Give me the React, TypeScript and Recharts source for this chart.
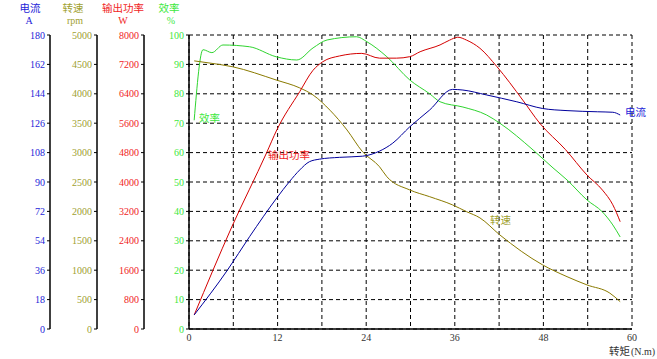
import React from 'react';
import { LineChart, Line, XAxis, YAxis, CartesianGrid } from 'recharts';

const xTicks = [0, 6, 12, 18, 24, 30, 36, 42, 48, 54, 60];
const currentTicks = [0, 18, 36, 54, 72, 90, 108, 126, 144, 162, 180];
const speedTicks = [0, 500, 1000, 1500, 2000, 2500, 3000, 3500, 4000, 4500, 5000];
const powerTicks = [0, 800, 1600, 2400, 3200, 4000, 4800, 5600, 6400, 7200, 8000];
const effTicks = [0, 10, 20, 30, 40, 50, 60, 70, 80, 90, 100];

const efficiencyData = [
  { t: 0.7, v: 71 }, { t: 1.9, v: 95 }, { t: 3.1, v: 94 }, { t: 4.6, v: 96.6 },
  { t: 8.2, v: 96 }, { t: 11.8, v: 92.6 }, { t: 14.6, v: 91.5 }, { t: 16.8, v: 95.6 },
  { t: 18.7, v: 98.3 }, { t: 22.7, v: 99.4 }, { t: 24.1, v: 97.7 }, { t: 26.8, v: 92.6 },
  { t: 29.9, v: 84.7 }, { t: 32.6, v: 80 }, { t: 34, v: 77.3 }, { t: 37.1, v: 75.5 },
  { t: 40.3, v: 72.8 }, { t: 42.1, v: 70 }, { t: 46.6, v: 60.9 }, { t: 49.3, v: 54.8 },
  { t: 51.2, v: 50.7 }, { t: 53.9, v: 43.9 }, { t: 56, v: 39.8 }, { t: 57.4, v: 35.4 },
  { t: 58.4, v: 31.3 },
];

const powerData = [
  { t: 0.7, v: 380 }, { t: 5.8, v: 2780 }, { t: 10.5, v: 4790 }, { t: 11.9, v: 5420 },
  { t: 15, v: 6460 }, { t: 16.8, v: 7040 }, { t: 18.1, v: 7270 }, { t: 20.4, v: 7430 },
  { t: 23.4, v: 7500 }, { t: 25.8, v: 7370 }, { t: 28.1, v: 7370 }, { t: 29.9, v: 7410 },
  { t: 31.3, v: 7545 }, { t: 34, v: 7730 }, { t: 35.3, v: 7860 }, { t: 36.4, v: 7940 },
  { t: 37.6, v: 7860 }, { t: 39.4, v: 7640 }, { t: 41.7, v: 7140 }, { t: 45.2, v: 6230 },
  { t: 47.5, v: 5600 }, { t: 51, v: 4880 }, { t: 53.9, v: 4190 }, { t: 56, v: 3780 },
  { t: 57.4, v: 3380 }, { t: 58.4, v: 2920 },
];

const speedData = [
  { t: 0.7, v: 4560 }, { t: 2.7, v: 4525 }, { t: 5.9, v: 4460 }, { t: 11.8, v: 4235 },
  { t: 15, v: 4100 }, { t: 16.8, v: 3980 }, { t: 19.1, v: 3720 }, { t: 21.4, v: 3385 },
  { t: 23.5, v: 3015 }, { t: 25.8, v: 2760 }, { t: 26.8, v: 2590 }, { t: 29.9, v: 2365 },
  { t: 32.6, v: 2250 }, { t: 35.7, v: 2110 }, { t: 37.6, v: 1995 }, { t: 39.4, v: 1890 },
  { t: 42.1, v: 1600 }, { t: 47.9, v: 1090 }, { t: 51.2, v: 890 }, { t: 53.9, v: 750 },
  { t: 57, v: 610 }, { t: 58.4, v: 465 },
];

const currentData = [
  { t: 0.7, v: 8.6 }, { t: 5.2, v: 36 }, { t: 8.2, v: 56.5 }, { t: 11.9, v: 80.3 },
  { t: 13.6, v: 90.2 }, { t: 15, v: 97.4 }, { t: 16.3, v: 102.4 }, { t: 17.7, v: 104 },
  { t: 20.4, v: 105.1 }, { t: 23.5, v: 105.8 }, { t: 25.8, v: 108.9 }, { t: 27.6, v: 113.8 },
  { t: 29.9, v: 123.8 }, { t: 32.6, v: 134.1 }, { t: 35.7, v: 146.7 }, { t: 37.1, v: 146.3 },
  { t: 40.3, v: 143.3 }, { t: 44.4, v: 139.1 }, { t: 47.9, v: 135 }, { t: 51.2, v: 133.7 },
  { t: 55.3, v: 133 }, { t: 57.4, v: 132.7 }, { t: 58.4, v: 131 },
];

const C_CUR = '#2424d8';
const C_SPD = '#a0a030';
const C_PWR = '#f02424';
const C_EFF = '#3ee83e';

const serif = '"Liberation Serif", "DejaVu Serif", serif';
const cjk = '"Noto Sans CJK SC", sans-serif';

const tickStyle = (fill: string) => ({ fill, fontSize: 10, fontFamily: serif });

export default function App() {
  return (
    <div style={{ position: 'absolute', left: 0, top: 0, width: 657, height: 359, background: '#fff' }}>
      <LineChart
        width={657}
        height={359}
        margin={{ top: 35, right: 25, bottom: 0, left: 0 }}
      >
        <CartesianGrid
          yAxisId="a_eff"
          stroke="#000"
          strokeDasharray="4 3"
          strokeWidth={1}
        />
        <XAxis
          dataKey="t"
          type="number"
          domain={[0, 60]}
          ticks={xTicks}
          height={30}
          tickLine={false}
          tickSize={3}
          axisLine={{ stroke: '#000', strokeWidth: 1.5 }}
          tick={tickStyle('#333')}
          tickFormatter={(v: number) => (v % 12 === 0 ? String(v) : '')}
          allowDuplicatedCategory={false}
        />
        <YAxis
          yAxisId="a_eff"
          orientation="left"
          width={45}
          domain={[0, 100]}
          ticks={effTicks}
          tickSize={3}
          axisLine={{ stroke: '#000', strokeWidth: 1.5 }}
          tickLine={{ stroke: '#000' }}
          tick={tickStyle(C_EFF)}
          interval={0}
        />
        <YAxis
          yAxisId="b_pwr"
          orientation="left"
          width={47}
          domain={[0, 8000]}
          ticks={powerTicks}
          tickSize={3}
          axisLine={{ stroke: '#000', strokeWidth: 1.5 }}
          tickLine={{ stroke: '#000' }}
          tick={tickStyle(C_PWR)}
          interval={0}
        />
        <YAxis
          yAxisId="c_spd"
          orientation="left"
          width={47}
          domain={[0, 5000]}
          ticks={speedTicks}
          tickSize={3}
          axisLine={{ stroke: '#000', strokeWidth: 1.5 }}
          tickLine={{ stroke: '#000' }}
          tick={tickStyle(C_SPD)}
          interval={0}
        />
        <YAxis
          yAxisId="d_cur"
          orientation="left"
          width={50}
          domain={[0, 180]}
          ticks={currentTicks}
          tickSize={3}
          axisLine={{ stroke: '#000', strokeWidth: 1.5 }}
          tickLine={{ stroke: '#000' }}
          tick={tickStyle(C_CUR)}
          interval={0}
        />
        <Line data={efficiencyData} dataKey="v" yAxisId="a_eff" type="monotone" stroke="#2fd42f" strokeWidth={1} dot={false} isAnimationActive={false} />
        <Line data={speedData} dataKey="v" yAxisId="c_spd" type="monotone" stroke="#8a7a00" strokeWidth={1} dot={false} isAnimationActive={false} />
        <Line data={powerData} dataKey="v" yAxisId="b_pwr" type="monotone" stroke="#d40000" strokeWidth={1} dot={false} isAnimationActive={false} />
        <Line data={currentData} dataKey="v" yAxisId="d_cur" type="monotone" stroke="#00009c" strokeWidth={1} dot={false} isAnimationActive={false} />
      </LineChart>
      <svg
        width={657}
        height={359}
        style={{ position: 'absolute', left: 0, top: 0, pointerEvents: 'none' }}
      >
        <g fontFamily={cjk} fontSize={10.5}>
          <text x={30} y={12} textAnchor="middle" fill={C_CUR}>电流</text>
          <text x={73} y={12} textAnchor="middle" fill={C_SPD}>转速</text>
          <text x={123} y={12} textAnchor="middle" fill={C_PWR}>输出功率</text>
          <text x={169} y={12} textAnchor="middle" fill={C_EFF}>效率</text>
          <text x={199} y={122} fill={C_EFF}>效率</text>
          <text x={268} y={159} fill={C_PWR}>输出功率</text>
          <text x={625} y={116} fill={C_CUR}>电流</text>
          <text x={490} y={224} fill={C_SPD}>转速</text>
          <text x={609} y={355} fill="#333">转矩</text>
        </g>
        <g fontFamily={serif} fontSize={10}>
          <text x={29} y={24} textAnchor="middle" fill={C_CUR}>A</text>
          <text x={75} y={24} textAnchor="middle" fill={C_SPD}>rpm</text>
          <text x={123} y={24} textAnchor="middle" fill={C_PWR}>W</text>
          <text x={171} y={24} textAnchor="middle" fill={C_EFF}>%</text>
          <text x={631} y={355} fill="#333">(N.m)</text>
        </g>
      </svg>
    </div>
  );
}
